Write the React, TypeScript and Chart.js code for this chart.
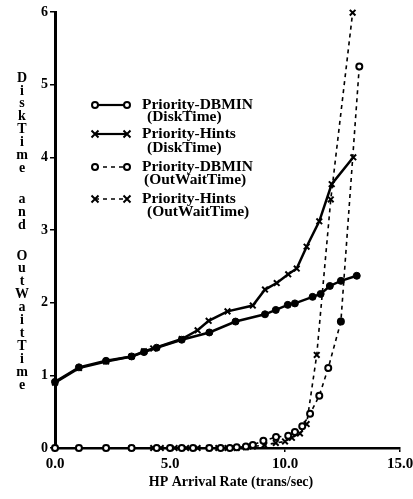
import React, { useEffect, useRef } from "react";
import { Chart, registerables } from "chart.js";

Chart.register(...registerables);

// ---- data ----
const dbminDiskX = [0, 1.04, 2.22, 3.33, 3.87, 4.42, 5.51, 6.71, 7.85, 9.13, 9.6, 10.12, 10.43, 11.2, 11.55, 11.95, 12.43, 13.12];
const dbminDiskY = [0.91, 1.11, 1.2, 1.26, 1.32, 1.38, 1.49, 1.59, 1.74, 1.84, 1.9, 1.97, 1.99, 2.08, 2.12, 2.23, 2.3, 2.37];

const hintsDiskX = [0, 1.04, 2.22, 3.33, 3.87, 4.27, 5.51, 6.2, 6.68, 7.5, 8.6, 9.13, 9.64, 10.14, 10.51, 10.94, 11.49, 12.03, 12.97];
const hintsDiskY = [0.9, 1.1, 1.19, 1.26, 1.33, 1.37, 1.5, 1.62, 1.75, 1.88, 1.96, 2.18, 2.27, 2.39, 2.47, 2.77, 3.12, 3.63, 4.0];

const dbminWaitX = [0, 1.04, 2.22, 3.33, 4.42, 5.0, 5.51, 6.0, 6.71, 7.2, 7.6, 7.9, 8.3, 8.6, 9.06, 9.61, 10.14, 10.43, 10.75, 11.09, 11.49, 11.88, 12.43, 13.23];
const dbminWaitY = [0, 0, 0, 0, 0, 0, 0, 0, 0, 0, 0, 0.01, 0.02, 0.04, 0.1, 0.15, 0.17, 0.22, 0.3, 0.47, 0.72, 1.1, 1.74, 5.25];

const hintsWaitX = [0, 1.04, 2.22, 3.33, 4.27, 4.6, 5.2, 5.7, 6.2, 6.7, 7.1, 7.5, 7.9, 8.3, 8.6, 9.1, 9.6, 10.0, 10.3, 10.65, 10.94, 11.38, 11.99, 12.94];
const hintsWaitY = [0, 0, 0, 0, 0, 0, 0, 0, 0, 0, 0, 0, 0, 0.01, 0.02, 0.04, 0.07, 0.09, 0.14, 0.2, 0.33, 1.28, 3.42, 5.99];

const seriesNames = ["Priority-DBMIN", "Priority-Hints", "Priority-DBMIN", "Priority-Hints"];
const seriesSubs = ["(DiskTime)", "(DiskTime)", "(OutWaitTime)", "(OutWaitTime)"];

const xTicks = [0, 5, 10, 15];
const yTicks = [0, 1, 2, 3, 4, 5, 6];
const xTitle = "HP Arrival Rate (trans/sec)";
const yTitle = "DiskTime and OutWaitTime";

const SERIF = '"Liberation Serif", "DejaVu Serif", serif';

const pts = (xs: number[], ys: number[]) => xs.map((x, i) => ({ x, y: ys[i] }));

function drawMarker(ctx: CanvasRenderingContext2D, kind: string, x: number, y: number) {
  ctx.save();
  ctx.strokeStyle = "#000";
  ctx.setLineDash([]);
  ctx.lineWidth = 2;
  if (kind === "circle") {
    ctx.fillStyle = "#fff";
    ctx.beginPath();
    ctx.arc(x, y, 3, 0, Math.PI * 2);
    ctx.fill();
    ctx.stroke();
  } else {
    const r = 3.5;
    ctx.beginPath();
    ctx.moveTo(x - r, y - r);
    ctx.lineTo(x + r, y + r);
    ctx.moveTo(x - r, y + r);
    ctx.lineTo(x + r, y - r);
    ctx.stroke();
  }
  ctx.restore();
}

const overlay = {
  id: "overlay",
  afterDraw(chart: any) {
    const ctx: CanvasRenderingContext2D = chart.ctx;
    ctx.save();
    ctx.fillStyle = "#000";
    // vertical stacked y title
    ctx.font = `bold 14px ${SERIF}`;
    ctx.textAlign = "center";
    ctx.textBaseline = "middle";
    let y = 78;
    for (const ch of yTitle) {
      if (ch === " ") {
        y += 18;
        continue;
      }
      ctx.fillText(ch, 22, y);
      y += 12.9;
    }
    // x title
    ctx.font = `bold 14px ${SERIF}`;
    ctx.fillText(xTitle, 231, 482);

    // legend
    const mainY = [105, 134, 167, 199];
    const subY = [117, 148, 180, 212];
    const subX = [147, 147, 144, 147];
    const kinds = ["circle", "cross", "circle", "cross"];
    const dashed = [false, false, true, true];
    for (let i = 0; i < 4; i++) {
      const ly = mainY[i];
      ctx.save();
      ctx.strokeStyle = "#000";
      ctx.lineWidth = dashed[i] ? 1.5 : 2.2;
      ctx.setLineDash(dashed[i] ? [4, 4] : []);
      ctx.beginPath();
      ctx.moveTo(95, ly);
      ctx.lineTo(127, ly);
      ctx.stroke();
      ctx.restore();
      drawMarker(ctx, kinds[i], 95, ly);
      drawMarker(ctx, kinds[i], 127, ly);
      ctx.font = `bold 15.5px ${SERIF}`;
      ctx.textAlign = "left";
      ctx.textBaseline = "middle";
      ctx.fillStyle = "#000";
      ctx.fillText(seriesNames[i], 142, ly);
      ctx.fillText(seriesSubs[i], subX[i], subY[i]);
    }
    ctx.restore();
  },
};

export default function App() {
  const ref = useRef<HTMLCanvasElement | null>(null);
  useEffect(() => {
    if (!ref.current) return;
    const tickFont = { family: SERIF, weight: "bold" as const, size: 15 };
    const chart = new Chart(ref.current, {
      type: "line",
      data: {
        datasets: [
          {
            label: seriesNames[0] + " " + seriesSubs[0],
            data: pts(dbminDiskX, dbminDiskY),
            borderColor: "#000",
            borderWidth: 2.5,
            pointStyle: "circle",
            pointRadius: 3.5,
            pointBackgroundColor: "#000",
            pointBorderColor: "#000",
            pointBorderWidth: 1,
            tension: 0,
            clip: false,
          },
          {
            label: seriesNames[1] + " " + seriesSubs[1],
            data: pts(hintsDiskX, hintsDiskY),
            borderColor: "#000",
            borderWidth: 2.5,
            pointStyle: "crossRot",
            pointRadius: 4,
            pointBorderColor: "#000",
            pointBorderWidth: 2,
            tension: 0,
            clip: false,
          },
          {
            label: seriesNames[2] + " " + seriesSubs[2],
            data: pts(dbminWaitX, dbminWaitY),
            borderColor: "#000",
            borderWidth: 1.6,
            borderDash: [4, 4],
            pointStyle: "circle",
            pointRadius: 3,
            pointBackgroundColor: (c: any) => (c.dataIndex === dbminWaitX.length - 2 ? "#000" : "#fff"),
            pointBorderColor: "#000",
            pointBorderWidth: 2,
            tension: 0,
            clip: false,
          },
          {
            label: seriesNames[3] + " " + seriesSubs[3],
            data: pts(hintsWaitX, hintsWaitY),
            borderColor: "#000",
            borderWidth: 1.6,
            borderDash: [4, 4],
            pointStyle: "crossRot",
            pointRadius: 4,
            pointBorderColor: "#000",
            pointBorderWidth: 2,
            tension: 0,
            clip: false,
          },
        ],
      },
      options: {
        responsive: false,
        animation: false,
        layout: { padding: { top: 12, right: 13, left: 0, bottom: 0 } },
        plugins: {
          legend: { display: false },
          tooltip: { enabled: false },
        },
        scales: {
          x: {
            type: "linear",
            min: 0,
            max: 15,
            afterFit: (s: any) => {
              s.height = 51;
              s.paddingRight = 0;
              s.paddingLeft = 0;
            },
            afterBuildTicks: (s: any) => {
              s.ticks = xTicks.map((v) => ({ value: v }));
            },
            ticks: {
              callback: (v: any) => Number(v).toFixed(1),
              font: tickFont,
              color: "#000",
              padding: 3,
              maxRotation: 0,
              autoSkip: false,
            },
            grid: {
              display: true,
              drawOnChartArea: false,
              drawTicks: true,
              tickLength: 4,
              color: "#000",
              lineWidth: 1.5,
            },
            border: { display: true, color: "#000", width: 2.5 },
          },
          y: {
            type: "linear",
            min: 0,
            max: 6,
            afterFit: (s: any) => {
              s.width = 55;
              s.paddingTop = 0;
              s.paddingBottom = 0;
            },
            afterBuildTicks: (s: any) => {
              s.ticks = yTicks.map((v) => ({ value: v }));
            },
            ticks: {
              callback: (v: any) => String(v),
              font: { family: SERIF, weight: "bold" as const, size: 14 },
              color: "#000",
              padding: 2,
            },
            grid: {
              display: true,
              drawOnChartArea: false,
              drawTicks: true,
              tickLength: 5,
              color: "#000",
              lineWidth: 1.5,
            },
            border: { display: true, color: "#000", width: 3 },
          },
        },
      },
      plugins: [overlay],
    });
    return () => chart.destroy();
  }, []);
  return (
    <div style={{ position: "absolute", left: 0, top: 0, width: 413, height: 499, background: "#fff" }}>
      <canvas ref={ref} width={413} height={499} style={{ display: "block" }} />
    </div>
  );
}
